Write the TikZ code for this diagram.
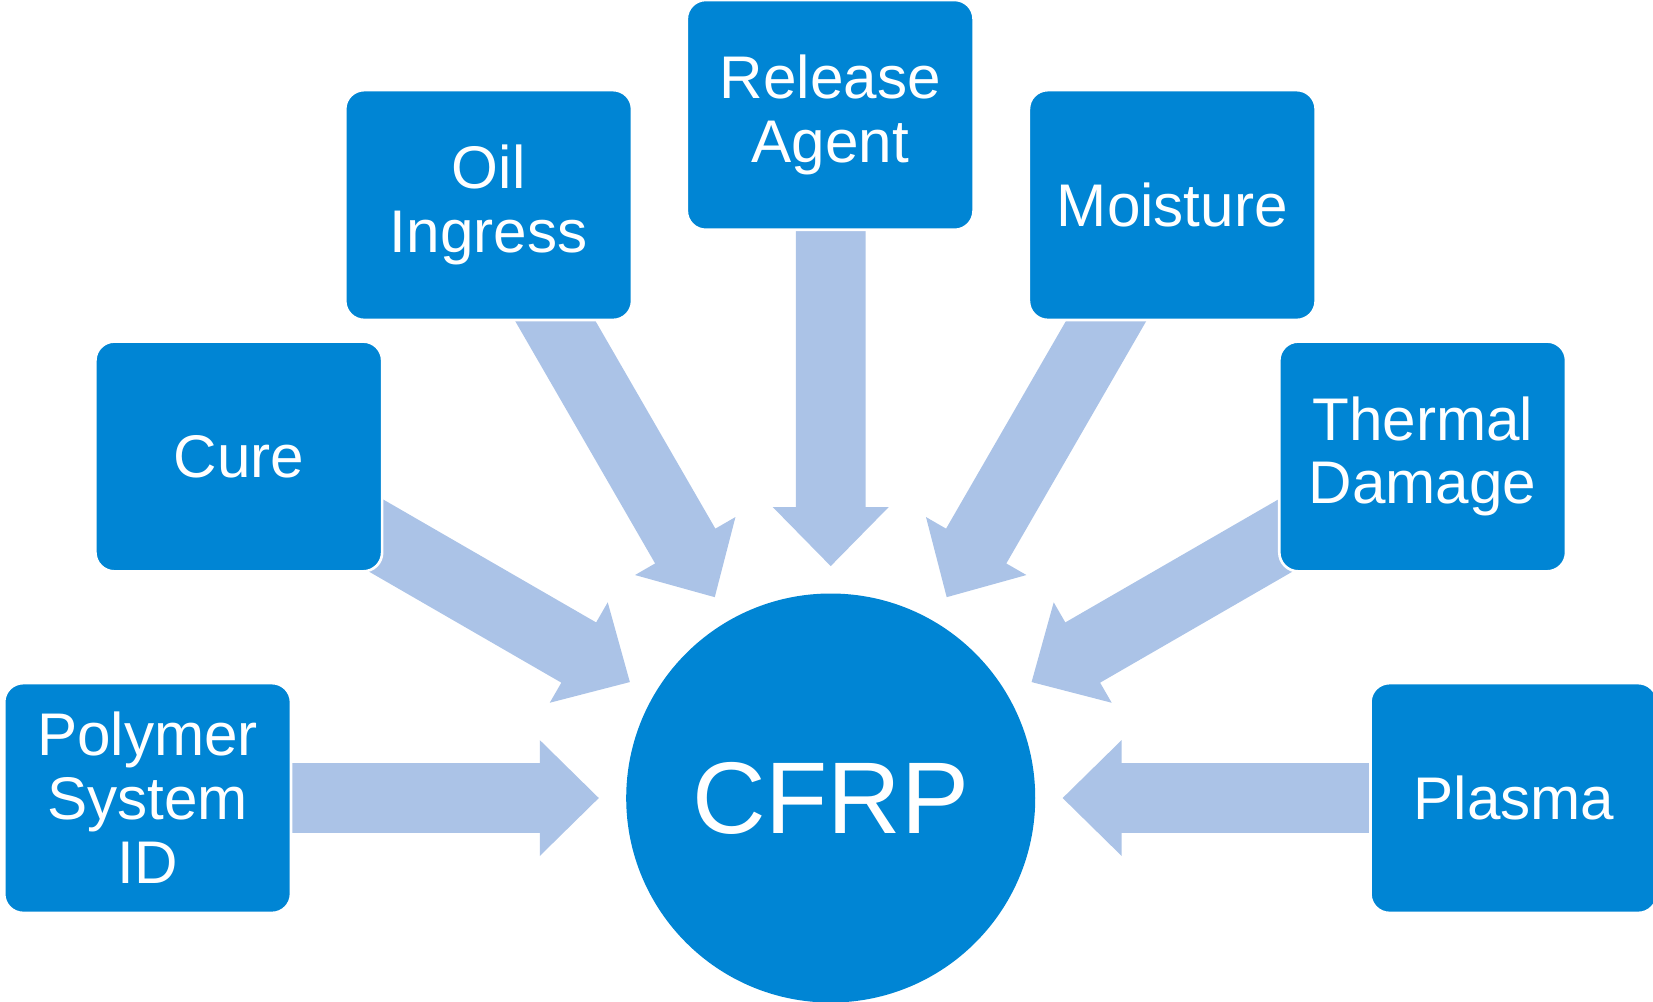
\documentclass[tikz,border=0pt]{standalone}
\usepackage{fontspec}
\setmainfont{Liberation Sans}
\definecolor{boxblue}{RGB}{0,133,212}
\definecolor{arrowblue}{RGB}{171,195,231}
\begin{document}
\begin{tikzpicture}[x=0.2mm,y=0.2mm,
  factor/.style={rectangle, rounded corners=3.6mm, fill=boxblue, draw=white,
    line width=0.5mm, minimum width=54.4mm, minimum height=43.6mm, text=white,
    align=center, font=\fontsize{32.5}{34.5}\selectfont, inner sep=0pt},
  hub/.style={circle, fill=boxblue, minimum size=77.6mm, text=white,
    font=\fontsize{55}{60}\selectfont, inner sep=0pt},
  blockarrow/.style={fill=arrowblue}]
\useasboundingbox (0,0) rectangle (1568,950);
\clip (0,0) rectangle (1568,950);
\node[hub] (cfrp) at (788,193) {CFRP};
\foreach \a in {0,30,...,180} {
  \begin{scope}[shift={(cfrp.center)}, rotate=\a]
    \fill[blockarrow] (580,-33) -- (276,-33) -- (276,-55) -- (220,0)
      -- (276,55) -- (276,33) -- (580,33) -- cycle;
  \end{scope}
}
\node[factor] (polymer) at (140,193) {Polymer\\System\\ID};
\node[factor] (cure) at (226.5,517) {Cure};
\node[factor] (oil) at (463.5,755.5) {Oil\\Ingress};
\node[factor] (release) at (787.5,841) {Release\\Agent};
\node[factor] (moisture) at (1112,755.5) {Moisture};
\node[factor] (thermal) at (1349.5,517) {Thermal\\Damage};
\node[factor] (plasma) at (1436,193) {Plasma};
\end{tikzpicture}
\end{document}
